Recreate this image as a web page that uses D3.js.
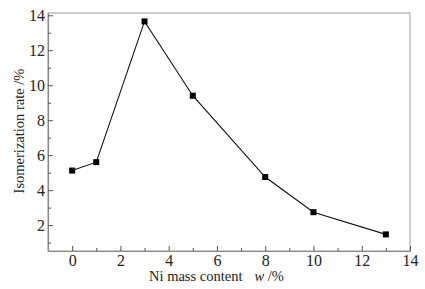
<!DOCTYPE html>
<html><head><meta charset="utf-8">
<script src="https://cdn.jsdelivr.net/npm/d3@7"></script>
<style>body{margin:0;background:#fff}svg{display:block}svg text{font-family:"Liberation Serif","Times New Roman",serif}
.tick text{font-family:"Liberation Serif",serif !important;font-size:16px !important;fill:#222}</style>
</head><body>
<script>
const niContent = [0, 1, 3, 5, 8, 10, 13];
const isomerization = [5.12, 5.6, 13.65, 9.4, 4.75, 2.74, 1.47];
const xTicks = [0, 2, 4, 6, 8, 10, 12, 14];
const yTicks = [2, 4, 6, 8, 10, 12, 14];

const W = 425, H = 289;
const L = 48, R = 410, T = 13, B = 251;
const svg = d3.select("body").append("svg").attr("width", W).attr("height", H);
const x = d3.scaleLinear().domain([-1, 14]).range([L, R]);
const y = d3.scaleLinear().domain([0.52, 14.13]).range([B, T]);
const axisColor = "#8a8a8a";

// frame
svg.append("rect").attr("x", L).attr("y", T).attr("width", R - L).attr("height", B - T)
  .attr("fill", "none").attr("stroke", "#aaa").attr("stroke-width", 1.2);

const xMinor = d3.range(0, 14, 1).filter(v => v % 2 === 1);
const yMinor = d3.range(1, 15, 2);

const gx = svg.append("g").attr("transform", `translate(0,${B})`)
  .call(d3.axisBottom(x).tickValues(xTicks).tickSizeInner(-5).tickSizeOuter(0).tickPadding(4).tickFormat(d3.format("d")));
const gxm = svg.append("g").attr("transform", `translate(0,${B})`)
  .call(d3.axisBottom(x).tickValues(xMinor).tickSize(-3).tickFormat(""));
const gy = svg.append("g").attr("transform", `translate(${L},0)`)
  .call(d3.axisLeft(y).tickValues(yTicks).tickSizeInner(-5).tickSizeOuter(0).tickPadding(3).tickFormat(d3.format("d")));
const gym = svg.append("g").attr("transform", `translate(${L},0)`)
  .call(d3.axisLeft(y).tickValues(yMinor).tickSize(-3).tickFormat(""));
[gx, gxm, gy, gym].forEach(g => {
  g.attr("font-family", null).attr("font-size", 16);
  g.select(".domain").attr("stroke", axisColor).attr("stroke-width", 1.2);
  g.selectAll(".tick line").attr("stroke", "#555");
  g.selectAll(".tick text").attr("font-size", 16).attr("fill", "#222");
});
gym.select(".domain").remove(); gxm.select(".domain").remove();

// line
svg.append("path").datum(niContent.map((d, i) => [d, isomerization[i]]))
  .attr("fill", "none").attr("stroke", "#111").attr("stroke-width", 1.1)
  .attr("d", d3.line().x(d => x(d[0])).y(d => y(d[1])));

svg.selectAll("rect.pt").data(niContent).enter().append("rect").attr("class", "pt")
  .attr("x", (d) => x(d) - 3).attr("y", (d, i) => y(isomerization[i]) - 3)
  .attr("width", 6).attr("height", 6).attr("fill", "#000");

// axis labels
const xl = svg.append("text").attr("x", 149).attr("y", 281).style("font-size", "14.5px").attr("fill", "#222");
xl.append("tspan").text("Ni mass content");
xl.append("tspan").attr("dx", 12).attr("font-style", "italic").text("w");
xl.append("tspan").text(" /%");

svg.append("text").attr("transform", `translate(24,131) rotate(-90)`)
  .attr("text-anchor", "middle").style("font-size", "14.5px").attr("fill", "#222")
  .text("Isomerization rate /%");
</script>
</body></html>
